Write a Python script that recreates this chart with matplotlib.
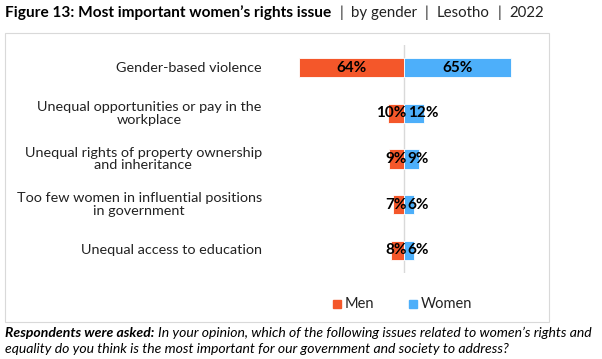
import matplotlib
matplotlib.use("Agg")
import matplotlib.pyplot as plt
from matplotlib.patches import Rectangle

plt.rcParams['font.family'] = ['Lato', 'DejaVu Sans']

issues = ["Gender-based violence",
          "Unequal opportunities or pay in the\nworkplace",
          "Unequal rights of property ownership\nand inheritance",
          "Too few women in influential positions\nin government",
          "Unequal access to education"]
men = [64, 10, 9, 7, 8]
women = [65, 12, 9, 6, 6]

c_men = '#F4572A'
c_women = '#4DAFFA'

W, H = 602, 359
fig = plt.figure(figsize=(W / 100, H / 100), dpi=100)
r = fig.canvas.get_renderer()


def fit_text(x, y, s, width, size=11, **kw):
    # shrink/grow the font so the text spans roughly `width` pixels
    t = fig.text(x / W, 1 - y / H, s, fontsize=size, va='center', **kw)
    w = t.get_window_extent(renderer=r).width
    t.set_fontsize(size * width / w)
    return t


# chart frame
fig.patches.append(Rectangle((5 / W, 1 - 322 / H), 544 / W, 289 / H, transform=fig.transFigure,
                             fill=False, edgecolor='#d9d9d9', linewidth=0.8))

ax = fig.add_axes([270 / W, 1 - 273 / H, 270 / W, 228 / H])
y = list(range(len(issues)))
ax.barh(y, [-m for m in men], height=0.42, color=c_men, edgecolor='white', linewidth=0.6)
ax.barh(y, women, height=0.42, color=c_women, edgecolor='white', linewidth=0.6)
ax.axvline(0, color='#d9d9d9', linewidth=1, zorder=0)
ax.set_xlim(-82, 83)
ax.set_ylim(4.5, -0.5)
ax.axis('off')

for i in y:
    if men[i] >= 20:
        ax.text(-men[i] / 2, i, f"{men[i]}%", ha='center', va='center', fontsize=11, fontweight='bold')
        ax.text(women[i] / 2, i, f"{women[i]}%", ha='center', va='center', fontsize=11, fontweight='bold')
    else:
        ax.text(1.5, i, f"{men[i]}%", ha='right', va='center', fontsize=11, fontweight='bold')
        ax.text(2.2, i, f"{women[i]}%", ha='left', va='center', fontsize=11, fontweight='bold')
    ax.text(-87, i, issues[i], ha='right', va='center', multialignment='center',
            fontsize=10.4, color='#222222', linespacing=1.05)

# legend
fig.patches.append(Rectangle((333 / W, 1 - 308 / H), 8 / W, 8 / H, transform=fig.transFigure, color=c_men))
fig.text(345 / W, 1 - 304 / H, "Men", fontsize=10.5, va='center', color='#222222')
fig.patches.append(Rectangle((409 / W, 1 - 308 / H), 8 / W, 8 / H, transform=fig.transFigure, color=c_women))
fig.text(421 / W, 1 - 304 / H, "Women", fontsize=10.5, va='center', color='#222222')

# title: bold part, then the pieces chained one after another
t = fit_text(5, 13, "Figure 13: Most important women\u2019s rights issue", 326, fontweight='bold')
x = t.get_window_extent(renderer=r).x1
for s in ["|", "by gender", "|", "Lesotho", "|", "2022"]:
    x += 8
    p = fig.text(x / W, 1 - 13 / H, s, fontsize=10.8, va='center', color='#222222')
    x = p.get_window_extent(renderer=r).x1

# footer
f1 = fig.text(5 / W, 1 - 333 / H, "Respondents were asked:", fontsize=10.1, fontweight='bold',
              style='italic', va='center')
bb = f1.get_window_extent(renderer=r)
fig.text(bb.x1 / W + 4 / W, 1 - 333 / H,
         "In your opinion, which of the following issues related to women\u2019s rights and",
         fontsize=10.1, style='italic', va='center')
fig.text(5 / W, 1 - 349 / H,
         "equality do you think is the most important for our government and society to address?",
         fontsize=10.1, style='italic', va='center')

fig.savefig('out.png', dpi=100)
